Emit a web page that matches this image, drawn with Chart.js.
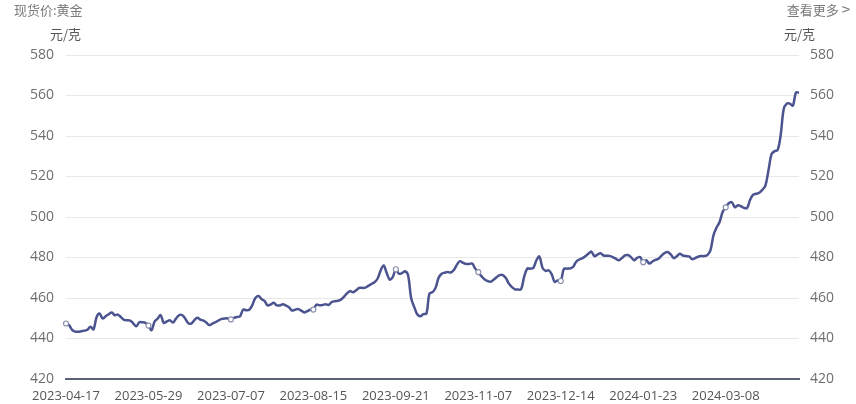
<!DOCTYPE html>
<html>
<head>
<meta charset="utf-8">
<script src="https://cdn.jsdelivr.net/npm/chart.js@4/dist/chart.umd.min.js"></script>
<style>
  html,body{margin:0;padding:0;background:#fff;}
  #wrap{position:relative;width:856px;height:404px;font-family:"Open Sans","Noto Sans CJK SC",sans-serif;}
  canvas{position:absolute;left:0;top:0;}
  .t{position:absolute;font-size:13px;color:#6e6e6e;white-space:nowrap;line-height:16px;font-family:"Noto Sans CJK SC","Open Sans",sans-serif;}
</style>
</head>
<body>
<div id="wrap">
  <canvas id="c" width="856" height="404"></canvas>
  <div class="t" style="left:14px;top:2px;color:#7a7a7a;">现货价:黄金</div>
  <div class="t" style="right:6px;top:1px;color:#7a7a7a;">查看更多 <span style="font-size:15px;">&gt;</span></div>
  <div class="t" style="left:50px;top:26px;color:#555;">元/克</div>
  <div class="t" style="left:784px;top:26px;color:#555;">元/克</div>
</div>
<script>
// ---- data ----
const startDate = '2023-04-17';
const endDate = '2024-04-15';
const holidays = ['2023-05-01','2023-05-02','2023-05-03','2023-06-22','2023-06-23',
  '2023-09-29','2023-10-02','2023-10-03','2023-10-04','2023-10-05','2023-10-06',
  '2024-01-01','2024-02-09','2024-02-12','2024-02-13','2024-02-14','2024-02-15','2024-02-16',
  '2024-04-04','2024-04-05'];
const tickDates = ['2023-04-17','2023-05-29','2023-07-07','2023-08-15','2023-09-21',
  '2023-11-07','2023-12-14','2024-01-23','2024-03-08'];
const yTicks = [420,440,460,480,500,520,540,560,580];
const goldPrice = [
 447.4,446.6,444.3,443.4,443.3,443.6,443.9,444.3,445.8,444.5,
 450.5,452.3,449.9,451.0,452.0,452.8,451.5,451.8,450.5,449.2,
 449.0,448.8,447.5,446.0,448.0,448.0,447.7,446.4,444.1,448.4,
 449.8,451.5,447.7,448.4,449.0,447.9,449.8,451.5,451.6,449.9,
 447.6,447.4,449.0,450.2,449.3,448.8,447.8,446.6,447.4,448.1,
 449.0,449.7,449.9,449.9,449.4,450.2,450.6,451.0,454.3,454.0,
 454.2,456.5,460.0,461.0,459.5,458.6,456.3,456.8,457.6,456.4,
 456.3,456.9,456.3,455.4,453.8,454.2,454.6,453.8,452.9,453.5,
 454.2,454.3,456.7,456.4,456.5,456.9,456.6,458.0,458.4,458.6,
 459.2,460.6,462.3,463.4,462.8,463.8,465.0,465.0,465.1,466.0,
 466.9,467.8,469.5,473.5,476.1,472.3,469.1,470.4,474.2,472.0,
 472.3,473.2,471.2,460.0,455.6,452.0,451.0,452.0,452.3,462.2,
 462.9,465.0,470.0,472.0,472.5,472.8,472.6,473.8,476.5,478.2,
 477.3,476.8,476.8,477.0,474.5,472.8,470.8,469.3,468.4,468.0,
 469.0,470.3,471.3,471.3,469.9,467.1,465.4,464.3,464.2,464.3,
 470.4,474.5,474.5,474.8,478.5,480.5,475.0,473.4,473.7,471.8,
 468.0,468.6,468.4,474.3,474.5,474.6,475.3,477.8,479.0,479.6,
 480.6,481.8,482.9,480.7,481.4,482.1,481.0,480.9,480.8,480.2,
 479.4,478.6,479.7,481.0,481.2,480.2,478.6,479.8,480.2,477.7,
 478.6,477.0,478.0,478.8,479.4,480.9,482.2,482.7,481.5,479.7,
 480.6,481.8,481.0,480.7,480.5,479.2,479.7,480.4,480.7,480.7,
 481.2,483.5,491.0,494.8,497.5,502.5,504.8,506.8,507.3,504.8,
 505.8,505.3,504.5,504.5,508.5,511.0,511.5,512.0,513.4,515.5,
 523.0,531.0,532.5,533.0,540.5,553.3,556.0,556.0,555.0,561.5,
 561.4
];

// trading-day categories
const dates = [];
(function(){
  let d = new Date(startDate + 'T00:00:00Z');
  const end = new Date(endDate + 'T00:00:00Z');
  while (d <= end) {
    const s = d.toISOString().slice(0,10);
    const wd = d.getUTCDay();
    if (wd !== 0 && wd !== 6 && holidays.indexOf(s) < 0) dates.push(s);
    d = new Date(d.getTime() + 86400000);
  }
})();
const labels = dates.slice(0, goldPrice.length);

const lineColor = '#4b548f';
new Chart(document.getElementById('c'), {
  type: 'line',
  data: {
    labels: labels,
    datasets: [{
      data: goldPrice,
      borderColor: lineColor,
      borderWidth: 2.5,
      tension: 0.35,
      pointRadius: ctx => tickDates.indexOf(labels[ctx.dataIndex]) >= 0 ? 2.5 : 0,
      pointBackgroundColor: '#fff',
      pointBorderColor: '#8a90b0',
      pointBorderWidth: 1.2,
      yAxisID: 'y'
    }]
  },
  options: {
    responsive: false,
    animation: false,
    layout: { padding: { top: 55, bottom: 0, left: 0, right: 0 } },
    plugins: { legend: { display: false }, tooltip: { enabled: false } },
    scales: {
      x: {
        type: 'category',
        offset: false,
        afterFit: a => { a.height = 25; },
        grid: { display: false, drawTicks: false },
        border: { display: true, color: '#5a6076', width: 2 },
        ticks: {
          autoSkip: false, maxRotation: 0, minRotation: 0, padding: 9,
          color: '#555', font: { size: 13, family: '"Open Sans","Noto Sans CJK SC",sans-serif' },
          callback: function(v, i){ const s = labels[i]; return tickDates.indexOf(s) >= 0 ? s : ''; }
        }
      },
      y: {
        position: 'left', min: 420, max: 580,
        afterBuildTicks: a => { a.ticks = yTicks.map(v => ({value: v})); },
        afterFit: a => { a.width = 66; },
        grid: { color: '#e8e8e8', drawTicks: false, lineWidth: 1 },
        border: { display: false },
        ticks: { padding: 12, color: '#6e6e6e', font: { size: 14, family: '"Open Sans",sans-serif' } }
      },
      y2: {
        position: 'right', min: 420, max: 580,
        afterBuildTicks: a => { a.ticks = yTicks.map(v => ({value: v})); },
        afterFit: a => { a.width = 57; },
        grid: { display: false, drawTicks: false },
        border: { display: false },
        ticks: { padding: 11, color: '#6e6e6e', font: { size: 14, family: '"Open Sans",sans-serif' } }
      }
    }
  }
});
</script>
</body>
</html>
